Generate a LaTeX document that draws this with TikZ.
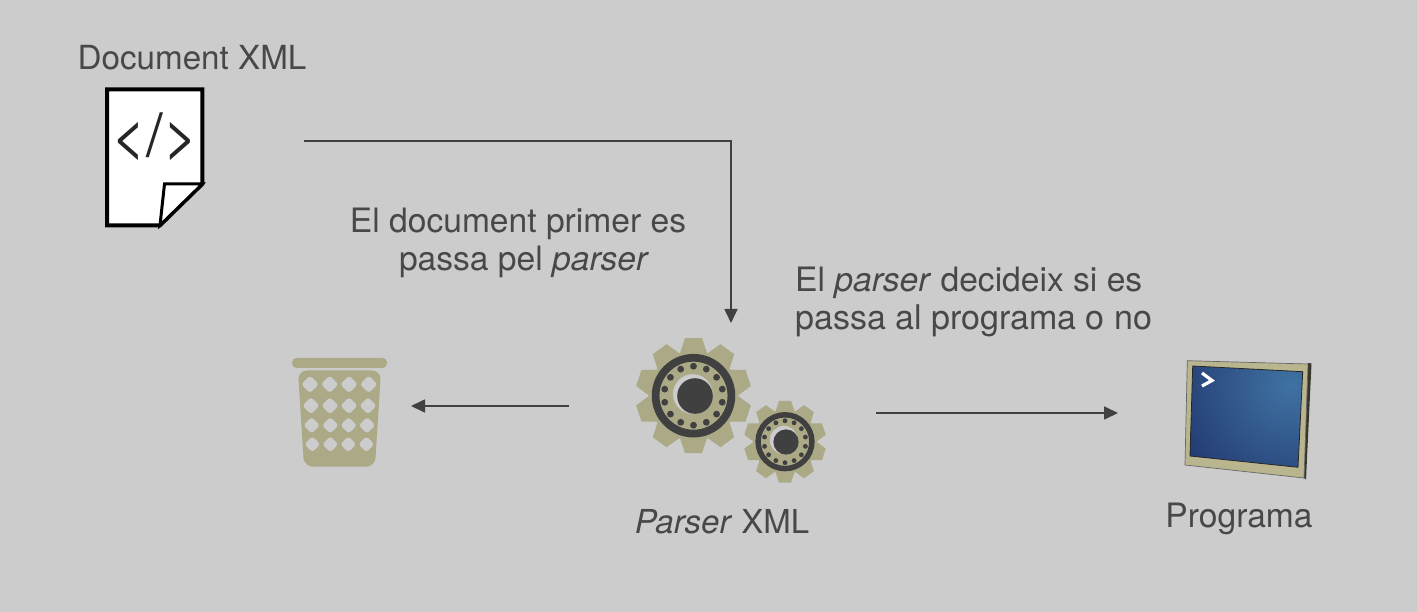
\documentclass[tikz,border=0pt]{standalone}
\usepackage{fontspec}
\setmainfont{TeX Gyre Heros}
\usetikzlibrary{arrows.meta}
\definecolor{bgc}{HTML}{CCCCCC}
\definecolor{ink}{HTML}{404040}
\definecolor{textink}{HTML}{484848}
\definecolor{khaki}{HTML}{ABA986}
\definecolor{bezel}{HTML}{B9B58F}
\definecolor{scrA}{HTML}{3F72A2}
\definecolor{scrB}{HTML}{233A72}
\tikzset{
  x=1pt,y=-1pt,
  label/.style={text=textink,inner sep=0pt,font=\fontsize{33.6}{39}\selectfont},
  conn/.style={draw=ink,line width=1.7pt,-{Triangle[length=14pt,width=13pt]}},
  anchorpt/.style={circle,inner sep=0pt,minimum size=2pt}
}
% #1 centre x, #2 centre y, #3 scale, #4 hub x, #5 hub y, #6 node name
\newcommand{\gearicon}[6]{%
  \begin{scope}[shift={(#1,#2)},scale=#3]
    \fill[khaki] (0,0) circle[radius=45];
    \foreach \a in {90,54,18,-18,-54,-90,-126,-162,162,126}
      \fill[khaki,rotate=\a] (41,-14) -- (57.5,-8.5) -- (57.5,8.5) -- (41,14) -- cycle;
    \draw[ink,line width=#3*7.7pt] (0,0) circle[radius=37.9];
    \foreach \k in {0,...,13}
      \fill[ink] ({90+\k*360/14}:29.5) circle[radius=3.4];
  \end{scope}
  \fill[bgc] (#4-2.2,#5-2) circle[radius=#3*19.8];
  \fill[ink] (#4,#5) circle[radius=#3*17.8];
  \node[circle,inner sep=0pt,minimum size=2pt] (#6) at (#1,#2) {};
}
\begin{document}
\begin{tikzpicture}
\fill[bgc] (0,0) rectangle (1417,612);
\useasboundingbox (0,0) rectangle (1417,612);

% document
\node[label,anchor=base,font=\fontsize{33.2}{39}\selectfont] (doctitle) at (192,70) {Document XML};
\draw[black,line width=4pt,fill=white,line join=miter]
  (107,89.3) -- (202.3,89.3) -- (202.3,184) -- (160,225.3) -- (107,225.3) -- cycle;
\draw[black,line width=3pt,fill=white,line join=miter]
  (202.3,184) -- (164.5,184) -- (160,225.3) -- cycle;
\node[text=black!85,inner sep=0pt,font=\fontsize{60}{60}\selectfont] (tag) at (155,137) {</>};

% gears
\gearicon{693.5}{395.7}{1}{695}{396}{gearbig}
\gearicon{785}{441.7}{0.71}{786}{442}{gearsmall}
\node[label,anchor=base,font=\fontsize{33}{39}\selectfont] (parserlabel) at (722,533) {\textit{Parser} XML};

% trash
\fill[khaki,rounded corners=4.5pt] (292,358) rectangle (387,368);
\fill[khaki,rounded corners=9pt] (298,370.5) -- (381,370.5) -- (375,466.7) -- (304,466.7) -- cycle;
\foreach \y/\h/\xs in {384.3/8.8/{310,329.7,349,368.7},405.7/8.6/{311,330,349,368},425.3/8.3/{311.7,330.3,348.7,367},444.3/8/{312.3,330.3,348.3,366.3}}
  \foreach \x in \xs
    \fill[bgc,rounded corners=3pt] (\x-\h,\y) -- (\x,\y-\h) -- (\x+\h,\y) -- (\x,\y+\h) -- cycle;
\node[anchorpt] (trash) at (340,412) {};

% monitor
\fill[black!70!bezel] (1308,363) -- (1311.5,363.5) -- (1306,479.5) -- (1304,478) -- cycle;
\draw[black!60,line width=.7pt,fill=bezel] (1187.3,360.7) -- (1308,364) -- (1304,478) -- (1185,465) -- cycle;
\begin{scope}
  \clip (1192.7,366) -- (1302.7,371.7) -- (1298,467.3) -- (1190,456) -- cycle;
  \shade[inner color=scrA,outer color=scrB] (1290,385) circle[radius=125];
\end{scope}
\draw[ink!60!black,line width=.8pt] (1192.7,366) -- (1302.7,371.7) -- (1298,467.3) -- (1190,456) -- cycle;
\draw[white,line width=3.2pt,line join=miter] (1202,373) -- (1212,380.5) -- (1202,386);
\node[anchorpt] (monitor) at (1247,420) {};
\node[label,anchor=base] (proglabel) at (1239,527) {Programa};

% free ends
\coordinate (docout) at (304,141);
\coordinate (corner) at (731,141);
\coordinate (parserin) at (731,323);
\coordinate (parserleft) at (569,406);
\coordinate (trashin) at (411,406);
\coordinate (parserright) at (876,413);
\coordinate (monitorin) at (1118,413);

\draw[conn] (docout) -- (corner) -- (parserin);
\draw[conn] (parserleft) -- (trashin);
\draw[conn] (parserright) -- (monitorin);

% annotations
\node[label,anchor=base] (note1a) at (518,232.5) {El document primer es};
\node[label,anchor=base] (note1b) at (524,270.5) {passa pel \textit{parser}};
\node[label,anchor=base west] (note2a) at (795,292) {El \textit{parser} decideix si es};
\node[label,anchor=base west,font=\fontsize{34}{39}\selectfont] (note2b) at (795,330) {passa al programa o no};
\end{tikzpicture}
\end{document}
